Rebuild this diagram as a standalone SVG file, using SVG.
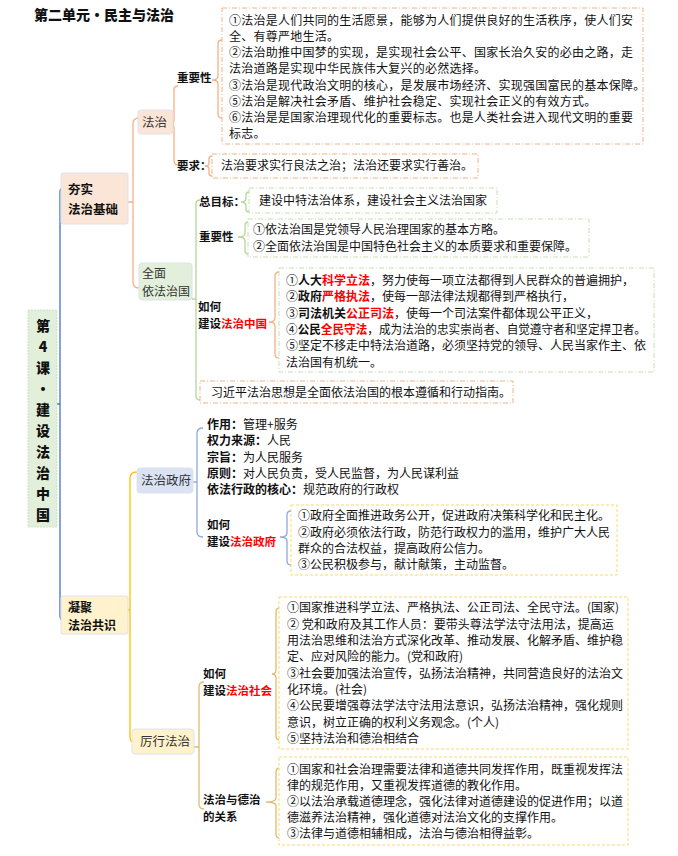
<svg xmlns="http://www.w3.org/2000/svg" width="678" height="856" viewBox="0 0 678 856">
<defs>
<style>
text{font-family:"Noto Sans CJK SC","Noto Sans",sans-serif;fill:#111;}
.t{font-size:12px;}
.lb{font-size:11.5px;font-weight:bold;}
.nd{font-size:12.5px;fill:#333;}
.nd2{font-size:12px;fill:#333;}
.ndb{font-size:12.5px;font-weight:bold;}
.ndb2{font-size:12px;font-weight:bold;}
.red{fill:#ff0000;font-weight:bold;}
.b{font-weight:bold;}
.c{fill:none;stroke-width:1.3;}
.or{stroke:#f4b183;}
.gr{stroke:#b4d69c;}
.bl{stroke:#8faadc;}
.yl{stroke:#ffc000;}
.tn{stroke:#dcbd72;}
.boxo{fill:#fff;stroke:#f4b183;stroke-width:1;stroke-dasharray:5 2 1 2;}
.boxg{fill:#fff;stroke:#c5e0b4;stroke-width:1;stroke-dasharray:5 2 1 2;}
.boxy{fill:#fff;stroke:#ffd966;stroke-width:1;stroke-dasharray:3 2;}
.node{stroke:#dde3ea;stroke-width:1;}
.rt{font-size:14px;font-weight:900;}
</style>
</defs>
<rect width="678" height="856" fill="#fff"/>
<text x="34" y="20" style="font-size:14px;font-weight:900;">第二单元·民主与法治</text>

<g id="connectors">
  <path class="c" stroke="#4472c4" d="M64,188 Q60,188 60,192 V616 Q60,620 64,620 M57,404 H60"/>
  <path class="c or" d="M128,202 H133 M139,118 Q133,118 133,124 V282 Q133,288 139,288"/>
  <path class="c or" d="M178,86 Q174,86 174,90 V120 Q174,124 171,124 Q174,124 174,128 V160 Q174,165 178,165"/>
  <path class="c or" d="M222,40 Q218,40 218,44 V76 Q218,80 212,80 Q218,80 218,84 V114 Q218,118 222,118"/>
  <path class="c or" d="M212,156 Q209,156 209,159 V163 Q209,166 205,166 Q209,166 209,169 V173 Q209,176 212,176"/>
  <path class="c gr" d="M192,299 H196 M200,200 Q196,200 196,204 V396 Q196,400 200,400"/>
  <path class="c gr" d="M249,192 Q246,192 246,195 V198 Q246,202 241,202 Q246,202 246,206 V209 Q246,212 249,212"/>
  <path class="c gr" d="M248,222 Q245,222 245,226 V233 Q245,237 238,237 Q245,237 245,241 V250 Q245,254 248,254"/>
  <path class="c or" d="M279,272 Q275,272 275,276 V318 Q275,322 269,322 Q275,322 275,326 V354 Q275,358 279,358"/>
  <path class="c yl" d="M128,610 H130 M137,472 Q130,472 130,478 V737 Q130,743 136,743"/>
  <path class="c bl" d="M193,482 H197 M203,428 Q197,428 197,433 V532 Q197,537 203,537"/>
  <path class="c bl" d="M291,511 Q287,511 287,515 V533 Q287,537 280,537 Q287,537 287,541 V561 Q287,565 291,565"/>
  <path class="c tn" d="M194,747 H199 M204,682 Q199,682 199,687 V804 Q199,809 204,809"/>
  <path class="c tn" d="M280,608 Q276,608 276,612 V670 Q276,674 272,674 Q276,674 276,678 V736 Q276,740 280,740"/>
  <path class="c tn" d="M280,768 Q276,768 276,772 V798 Q276,802 266,802 Q276,802 276,806 V834 Q276,838 280,838"/>
</g>

<g id="root">
  <rect x="28" y="310" width="29" height="217" fill="#e2efda" stroke="#cfe3c3" stroke-dasharray="2 1"/>
  <g text-anchor="middle">
    <text class="rt" x="43" y="331">第</text><text class="rt" x="43" y="352">4</text><text class="rt" x="43" y="373">课</text><text class="rt" x="43" y="394">·</text><text class="rt" x="43" y="415">建</text><text class="rt" x="43" y="436">设</text><text class="rt" x="43" y="457">法</text><text class="rt" x="43" y="478">治</text><text class="rt" x="43" y="499">中</text><text class="rt" x="43" y="520">国</text>
  </g>
</g>

<g id="n-hangshi">
  <rect class="node" x="61" y="173" width="67" height="51" rx="2" fill="#fbe5d6"/>
  <text class="ndb" x="68" y="194">夯实</text>
  <text class="ndb" x="68" y="214">法治基础</text>
</g>

<g id="n-fazhi">
  <rect class="node" x="138" y="110" width="35" height="24" rx="3" fill="#fbe5d6"/>
  <text class="nd" x="142" y="127">法治</text>
</g>

<g id="l-zhongyao1"><text class="lb" x="177" y="82">重要性</text></g>
<g id="b-zhongyao1">
  <rect class="boxo" x="222" y="8" width="421" height="136"/>
  <g style="letter-spacing:0.25px">
  <text class="t" x="229" y="25">①法治是人们共同的生活愿景，能够为人们提供良好的生活秩序，使人们安</text>
  <text class="t" x="229" y="41">全、有尊严地生活。</text>
  <text class="t" x="229" y="57">②法治助推中国梦的实现，是实现社会公平、国家长治久安的必由之路，走</text>
  <text class="t" x="229" y="73">法治道路是实现中华民族伟大复兴的必然选择。</text>
  <text class="t" x="229" y="90">③法治是现代政治文明的核心，是发展市场经济、实现强国富民的基本保障。</text>
  <text class="t" x="229" y="106">⑤法治是解决社会矛盾、维护社会稳定、实现社会正义的有效方式。</text>
  <text class="t" x="229" y="122">⑥法治是是国家治理现代化的重要标志。也是人类社会进入现代文明的重要</text>
  <text class="t" x="229" y="138">标志。</text>
  </g>
</g>

<g id="l-yaoqiu"><text class="lb" x="177" y="170">要求：</text></g>
<g id="b-yaoqiu">
  <rect class="boxo" x="212" y="154" width="266" height="24"/>
  <text class="t" x="221" y="170">法治要求实行良法之治；法治还要求实行善治。</text>
</g>

<g id="n-quanmian">
  <rect class="node" x="139" y="263" width="53" height="37" rx="3" fill="#e2efda"/>
  <text class="nd2" x="142" y="278">全面</text>
  <text class="nd2" x="142" y="296">依法治国</text>
</g>

<g id="l-zongmubiao"><text class="lb" x="199" y="206">总目标：</text></g>
<g id="b-zongmubiao">
  <rect class="boxg" x="249" y="188" width="248" height="25"/>
  <text class="t" x="259" y="205">建设中特法治体系，建设社会主义法治国家</text>
</g>

<g id="l-zhongyao2"><text class="lb" x="199" y="241">重要性</text></g>
<g id="b-zhongyao2">
  <rect class="boxg" x="248" y="219" width="341" height="38"/>
  <text class="t" x="253" y="234">①依法治国是党领导人民治理国家的基本方略。</text>
  <text class="t" x="253" y="251">②全面依法治国是中国特色社会主义的本质要求和重要保障。</text>
</g>

<g id="l-jianshe-zg">
  <text class="lb" x="198" y="311">如何</text>
  <text class="lb" x="198" y="328">建设<tspan class="red">法治中国</tspan></text>
</g>
<g id="b-jianshe-zg">
  <rect class="boxg" x="279" y="268" width="375" height="104"/>
  <text class="t" x="286" y="285">①<tspan class="b">人大</tspan><tspan class="red">科学立法</tspan>，努力使每一项立法都得到人民群众的普遍拥护，</text>
  <text class="t" x="286" y="301">②<tspan class="b">政府</tspan><tspan class="red">严格执法</tspan>，使每一部法律法规都得到严格执行，</text>
  <text class="t" x="286" y="318">③<tspan class="b">司法机关</tspan><tspan class="red">公正司法</tspan>，使每一个司法案件都体现公平正义，</text>
  <text class="t" x="286" y="334" textLength="360" lengthAdjust="spacingAndGlyphs">④<tspan class="b">公民</tspan><tspan class="red">全民守法</tspan>，成为法治的忠实崇尚者、自觉遵守者和坚定捍卫者。</text>
  <text class="t" x="286" y="350">⑤坚定不移走中特法治道路，必须坚持党的领导、人民当家作主、依</text>
  <text class="t" x="286" y="367">法治国有机统一。</text>
</g>

<g id="b-xi">
  <rect class="boxo" x="200" y="381" width="313" height="22"/>
  <text class="t" x="211" y="397">习近平法治思想是全面依法治国的根本遵循和行动指南。</text>
</g>

<g id="n-ningju">
  <rect class="node" x="61" y="596" width="67" height="38" rx="2" fill="#fff2cc"/>
  <text class="ndb2" x="68" y="612">凝聚</text>
  <text class="ndb2" x="68" y="630">法治共识</text>
</g>

<g id="n-zhengfu">
  <rect class="node" x="137" y="468" width="56" height="25" rx="3" fill="#dae3f3"/>
  <text class="nd" x="141" y="485">法治政府</text>
</g>

<g id="l-zhengfu-items">
  <text class="t" x="207" y="429"><tspan class="b">作用：</tspan>管理+服务</text>
  <text class="t" x="207" y="445"><tspan class="b">权力来源：</tspan>人民</text>
  <text class="t" x="207" y="462"><tspan class="b">宗旨：</tspan>为人民服务</text>
  <text class="t" x="207" y="478"><tspan class="b">原则：</tspan>对人民负责，受人民监督，为人民谋利益</text>
  <text class="t" x="207" y="494"><tspan class="b">依法行政的核心：</tspan>规范政府的行政权</text>
</g>

<g id="l-jianshe-zf">
  <text class="lb" x="207" y="529">如何</text>
  <text class="lb" x="207" y="546">建设<tspan class="red">法治政府</tspan></text>
</g>
<g id="b-jianshe-zf">
  <rect class="boxy" x="291" y="505" width="326" height="70"/>
  <text class="t" x="298" y="520">①政府全面推进政务公开，促进政府决策科学化和民主化。</text>
  <text class="t" x="298" y="537">②政府必须依法行政，防范行政权力的滥用，维护广大人民</text>
  <text class="t" x="298" y="553">群众的合法权益，提高政府公信力。</text>
  <text class="t" x="298" y="569">③公民积极参与，献计献策，主动监督。</text>
</g>

<g id="n-lixing">
  <rect class="node" x="132" y="729" width="62" height="25" rx="3" fill="#fff2cc"/>
  <text class="nd" x="140" y="746">厉行法治</text>
</g>

<g id="l-jianshe-sh">
  <text class="lb" x="203" y="678">如何</text>
  <text class="lb" x="203" y="695">建设<tspan class="red">法治社会</tspan></text>
</g>
<g id="b-jianshe-sh">
  <rect class="boxy" x="279" y="597" width="349" height="152"/>
  <text class="t" x="287" y="612">①国家推进科学立法、严格执法、公正司法、全民守法。(国家)</text>
  <text class="t" x="287" y="629">② 党和政府及其工作人员：要带头尊法学法守法用法，提高运</text>
  <text class="t" x="287" y="645">用法治思维和法治方式深化改革、推动发展、化解矛盾、维护稳</text>
  <text class="t" x="287" y="661">定、应对风险的能力。(党和政府)</text>
  <text class="t" x="287" y="678">③社会要加强法治宣传，弘扬法治精神，共同营造良好的法治文</text>
  <text class="t" x="287" y="694">化环境。(社会)</text>
  <text class="t" x="287" y="710">④公民要增强尊法学法守法用法意识，弘扬法治精神，强化规则</text>
  <text class="t" x="287" y="727">意识，树立正确的权利义务观念。(个人)</text>
  <text class="t" x="287" y="743">⑤坚持法治和德治相结合</text>
</g>

<g id="l-deshi">
  <text class="lb" x="203" y="804">法治与德治</text>
  <text class="lb" x="203" y="821">的关系</text>
</g>
<g id="b-deshi">
  <rect class="boxy" x="279" y="757" width="349" height="88"/>
  <text class="t" x="287" y="774">①国家和社会治理需要法律和道德共同发挥作用，既重视发挥法</text>
  <text class="t" x="287" y="790">律的规范作用，又重视发挥道德的教化作用。</text>
  <text class="t" x="287" y="806">②以法治承载道德理念，强化法律对道德建设的促进作用；以道</text>
  <text class="t" x="287" y="822">德滋养法治精神，强化道德对法治文化的支撑作用。</text>
  <text class="t" x="287" y="838">③法律与道德相辅相成，法治与德治相得益彰。</text>
</g>
</svg>
